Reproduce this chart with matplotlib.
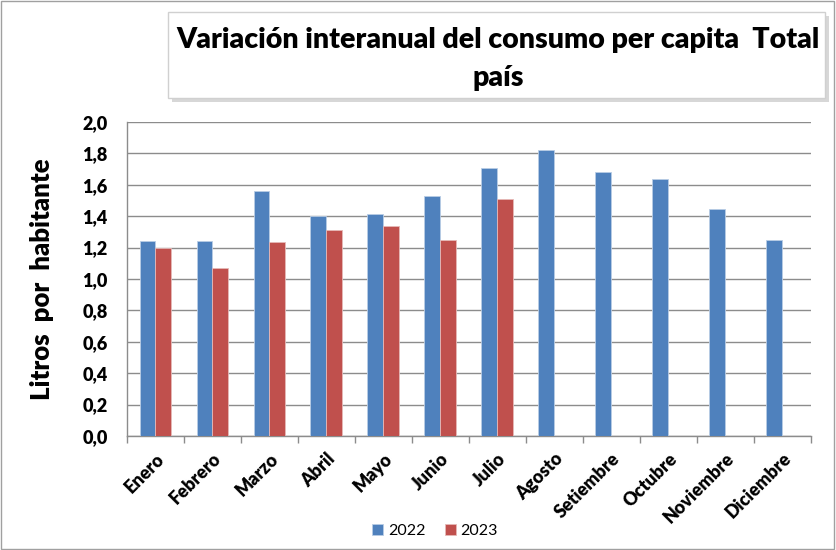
import numpy as np
import matplotlib
matplotlib.use('Agg')
from matplotlib import pyplot as plt
from matplotlib.patches import Rectangle

meses = ["Enero", "Febrero", "Marzo", "Abril", "Mayo", "Junio", "Julio",
         "Agosto", "Setiembre", "Octubre", "Noviembre", "Diciembre"]
v2022 = [1.24, 1.24, 1.56, 1.40, 1.415, 1.53, 1.705, 1.82, 1.68, 1.635, 1.445, 1.245]
v2023 = [1.20, 1.07, 1.235, 1.31, 1.34, 1.25, 1.51]
yticks = [0.0, 0.2, 0.4, 0.6, 0.8, 1.0, 1.2, 1.4, 1.6, 1.8, 2.0]

plt.rcParams['font.family'] = ['Lato', 'DejaVu Sans']

fig = plt.figure(figsize=(8.36, 5.5), dpi=100)
ax = fig.add_axes([0.1519, 0.2073, 0.818, 0.571])

w = 0.28
x = np.arange(len(meses))
ax.bar(x - w / 2, v2022, w, color='#4F81BD', edgecolor='#B9CDE5', linewidth=0.6, label='2022', zorder=3)
ax.bar(np.arange(len(v2023)) + w / 2, v2023, w, color='#C0504D', edgecolor='#E6B9B8', linewidth=0.6, label='2023', zorder=3)

ax.set_xlim(-0.5, len(meses) - 0.5)
ax.set_ylim(0, 2.0)
ax.set_yticks(yticks)
ax.set_yticklabels([f"{t:.1f}".replace('.', ',') for t in yticks], fontsize=13, fontweight='heavy')
ax.yaxis.grid(True, color='#8c8c8c', linewidth=1.0, zorder=0)
ax.tick_params(axis='y', length=0, pad=14)

ax.set_xticks(np.arange(len(meses) + 1) - 0.5, minor=True)
ax.set_xticks(x)
ax.set_xticklabels(meses, rotation=45, ha='right', rotation_mode='anchor', fontsize=13, fontweight='heavy')
ax.tick_params(axis='x', which='major', length=0, pad=10)
ax.tick_params(axis='x', which='minor', length=5, color='#8c8c8c', width=1)

for s in ['top', 'right']:
    ax.spines[s].set_visible(False)
for s in ['left', 'bottom']:
    ax.spines[s].set_color('#8c8c8c')
    ax.spines[s].set_linewidth(1.0)

ax.set_ylabel("Litros  por  habitante", fontsize=18.5, fontweight='heavy', labelpad=20)

# title box with shadow
shadow = Rectangle((172 / 836, 1 - 102 / 550), 657 / 836, 86 / 550, transform=fig.transFigure,
                   facecolor='#bdbdbd', edgecolor='none', alpha=0.6, zorder=1)
box = Rectangle((168 / 836, 1 - 98 / 550), 657 / 836, 86 / 550, transform=fig.transFigure,
                facecolor='white', edgecolor='#d0d0d0', linewidth=1, zorder=2)
fig.add_artist(shadow)
fig.add_artist(box)
fig.text(498 / 836, 1 - 59 / 550, "Variación interanual del consumo per capita  Total\npaís",
         ha='center', va='center', fontsize=20.5, fontweight='heavy', linespacing=1.55, zorder=3)

fig.legend(loc='center', bbox_to_anchor=(435 / 836, 1 - 531 / 550), ncol=2, frameon=False,
           fontsize=11.5, handlelength=0.7, handleheight=0.7, handletextpad=0.3, columnspacing=1.2)

fig.add_artist(Rectangle((0.001, 0.001), 0.997, 0.997, transform=fig.transFigure,
                         facecolor='none', edgecolor='#a0a0a0', linewidth=1))

plt.savefig("out.png", dpi=100)
